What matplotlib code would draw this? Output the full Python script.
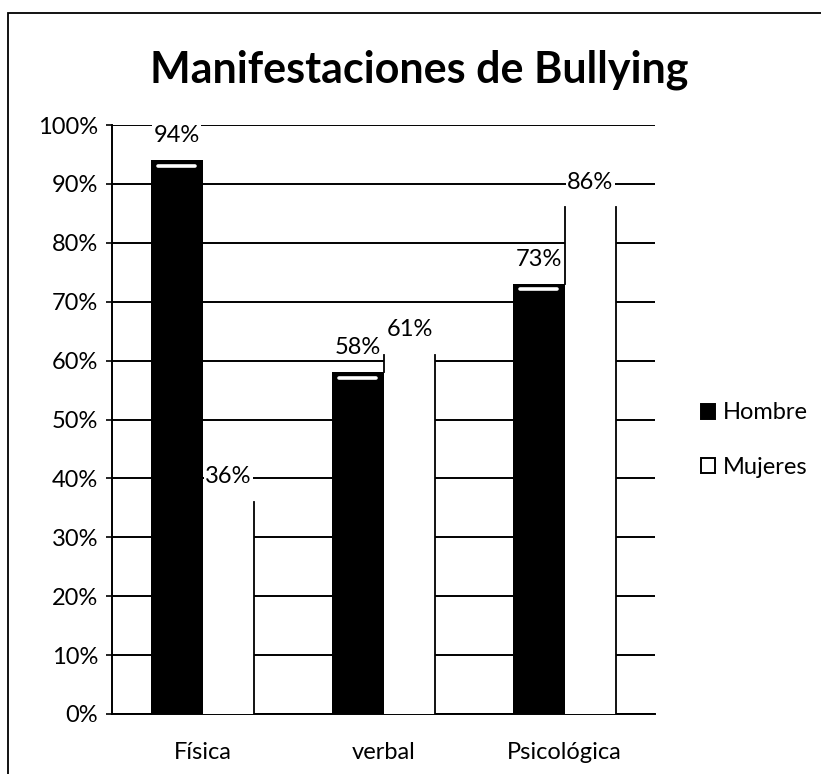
import matplotlib
matplotlib.use("Agg")
import matplotlib.pyplot as plt
import numpy as np
from matplotlib.patches import Rectangle

categories = ["Física", "verbal", "Psicológica"]
hombre = [94, 58, 73]
mujeres = [36, 61, 86]
series_names = ["Hombre", "Mujeres"]
yticks = [0, 10, 20, 30, 40, 50, 60, 70, 80, 90, 100]

plt.rcParams['font.family'] = ['Lato', 'DejaVu Sans']
FS = 17

fig = plt.figure(figsize=(8.21, 7.74), dpi=100)
ax = fig.add_axes([112/821, 1-714/774, (655-112)/821, (714-125)/774])

x = np.arange(len(categories))
w = 0.287

ax.set_ylim(0, 100)
ax.set_xlim(-0.5, 2.5)
ax.set_yticks(yticks)
ax.set_yticklabels([f"{v}%" for v in yticks], fontsize=FS)
ax.yaxis.grid(True, color='black', linewidth=1.4)
ax.set_axisbelow(True)

b1 = ax.bar(x - w/2, hombre, width=w, color='black', zorder=3, label=series_names[0])
b2 = ax.bar(x + w/2, mujeres, width=w, color='white', zorder=3, label=series_names[1])

# highlight on black bar tops
for xi, v in zip(x, hombre):
    ax.plot([xi - w*0.85, xi - w*0.15], [v - 0.9, v - 0.9], color='white', lw=2.6,
            solid_capstyle='round', zorder=4)

# edges of white bars
for xi, v, h in zip(x, mujeres, hombre):
    ax.plot([xi + w, xi + w], [0, v], color='black', lw=1.3, zorder=4)
    if v > h:
        ax.plot([xi, xi], [h, v], color='black', lw=1.3, zorder=4)

for xi, v in zip(x, hombre):
    ax.text(xi - w/2, v + 4.2, f"{v}%", ha='center', va='center', fontsize=FS, zorder=5,
            bbox=dict(boxstyle='square,pad=0.05', fc='white', ec='none'))
for xi, v in zip(x, mujeres):
    ax.text(xi + w/2, v + 4.3, f"{v}%", ha='center', va='center', fontsize=FS, zorder=5,
            bbox=dict(boxstyle='square,pad=0.05', fc='white', ec='none'))

ax.set_xticks(x)
ax.set_xticklabels(categories, fontsize=FS)
ax.tick_params(axis='x', length=0, pad=20)
ax.tick_params(axis='y', length=4, width=1.2, pad=6)
for s in ['top', 'right']:
    ax.spines[s].set_visible(False)
for s in ['left', 'bottom']:
    ax.spines[s].set_linewidth(1.4)

fig.suptitle("Manifestaciones de Bullying", x=419/821, y=1-70/774,
             va='center', fontsize=31, fontweight='bold')

leg = fig.legend(handles=[b1, b2], labels=series_names, loc='center left',
                 bbox_to_anchor=(680/821, 1-440/774), frameon=False, fontsize=FS,
                 handlelength=0.6, handleheight=0.6, handletextpad=0.3, labelspacing=1.4)
for p in leg.legend_handles:
    p.set_edgecolor('black')
    p.set_linewidth(1.4)

fig.patches.append(Rectangle((8/821, -0.1), 1.2, 1 - 13/774 + 0.1, transform=fig.transFigure,
                             fill=False, edgecolor='black', linewidth=1.3))

fig.savefig("out.png", dpi=100)
